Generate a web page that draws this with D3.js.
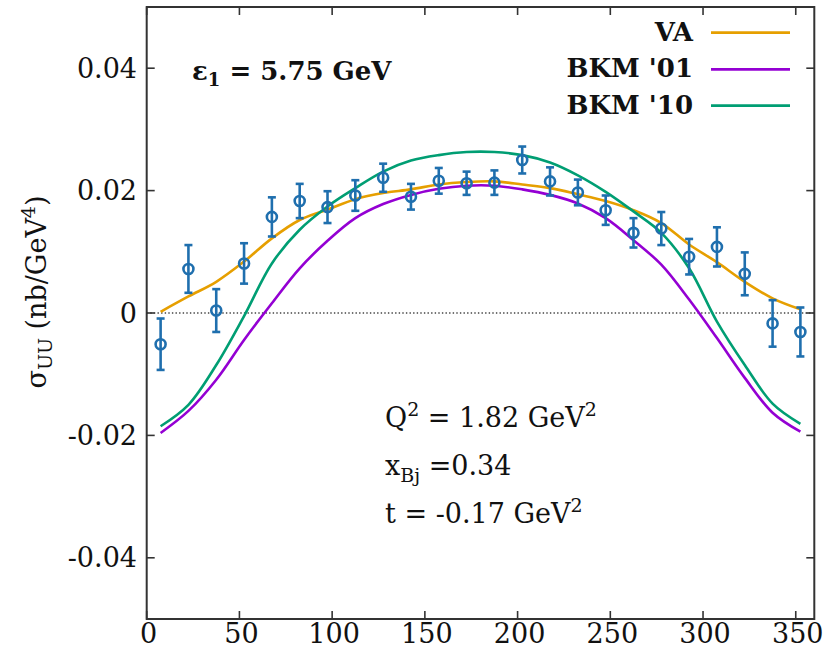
<!DOCTYPE html>
<html>
<head>
<meta charset="utf-8">
<script src="https://cdn.jsdelivr.net/npm/d3@7"></script>
<style>
  html, body { margin: 0; padding: 0; background: #fff; }
  svg { display: block; }
  text { font-family: "DejaVu Serif", "Liberation Serif", serif; fill: #111; }
</style>
</head>
<body>
<svg id="chart" width="827" height="650"></svg>
<script>
// Azimuthal angle bins (deg)
const phi = [7.5, 22.5, 37.5, 52.5, 67.5, 82.5, 97.5, 112.5, 127.5, 142.5, 157.5, 172.5,
             187.5, 202.5, 217.5, 232.5, 247.5, 262.5, 277.5, 292.5, 307.5, 322.5, 337.5, 352.5];

// Measured unpolarized cross section and its uncertainty (nb/GeV^4)
const sigma = [-0.0051, 0.0072, 0.0004, 0.0081, 0.0157, 0.0183, 0.0173, 0.0192, 0.0221, 0.0190, 0.0216, 0.0212,
               0.0213, 0.0250, 0.0215, 0.0197, 0.0168, 0.0131, 0.0138, 0.0092, 0.0108, 0.0064, -0.0017, -0.0031];
const sigmaErr = [0.0042, 0.0039, 0.0035, 0.0033, 0.0032, 0.0028, 0.0026, 0.0025, 0.0023, 0.0021, 0.0021, 0.0019,
                  0.0020, 0.0022, 0.0023, 0.0021, 0.0024, 0.0024, 0.0027, 0.0029, 0.0032, 0.0035, 0.0038, 0.0040];

// Model predictions at the same angles
const curveVA = [0.0002, 0.0027, 0.0051, 0.0084, 0.0122, 0.0152, 0.0169, 0.0186, 0.0196, 0.0202, 0.0210, 0.0214,
                 0.0215, 0.0210, 0.0204, 0.0194, 0.0183, 0.0168, 0.0147, 0.0112, 0.0083, 0.0051, 0.0024, 0.0006];
const curveBKM01 = [-0.0196, -0.0160, -0.0109, -0.0044, 0.0016, 0.0073, 0.0118, 0.0155, 0.0178, 0.0193, 0.0203, 0.0208,
                    0.0208, 0.0202, 0.0193, 0.0179, 0.0155, 0.0119, 0.0079, 0.0022, -0.0041, -0.0106, -0.0163, -0.0194];
const curveBKM10 = [-0.0185, -0.0150, -0.0085, -0.0005, 0.0081, 0.0136, 0.0174, 0.0204, 0.0231, 0.0249, 0.0258, 0.0263,
                    0.0263, 0.0258, 0.0246, 0.0225, 0.0198, 0.0166, 0.0131, 0.0073, -0.0014, -0.0085, -0.0148, -0.0181];

const seriesNames = ["VA", "BKM '01", "BKM '10"];
const seriesColors = ["#e69f00", "#9400d3", "#009e73"];
const pointColor = "#1f6fae";

const xTicks = [0, 50, 100, 150, 200, 250, 300, 350];
const xTickLabels = ["0", "50", "100", "150", "200", "250", "300", "350"];
const yTicks = [-0.04, -0.02, 0, 0.02, 0.04];
const yTickLabels = ["-0.04", "-0.02", "0", "0.02", "0.04"];

// ---- layout ----
const plot = { left: 146.7, right: 814.3, top: 7, bottom: 619 };
const svg = d3.select("#chart");

const x = d3.scaleLinear().domain([0, 360]).range([plot.left, plot.right]);
const y = d3.scaleLinear().domain([-0.05, 0.05]).range([plot.bottom, plot.top]);

const frameColor = "#333";
const tickLen = 8;
const tickFont = 27;

// zero reference line
svg.append("line")
  .attr("x1", x(0)).attr("x2", x(360))
  .attr("y1", y(0)).attr("y2", y(0))
  .attr("stroke", "#444").attr("stroke-width", 1.4)
  .attr("stroke-dasharray", "1.4,2.2");

// model curves
const models = [curveVA, curveBKM01, curveBKM10];
const line = d3.line()
  .x((d, i) => x(phi[i]))
  .y(d => y(d))
  .curve(d3.curveCatmullRom.alpha(0.5));

models.forEach((vals, k) => {
  svg.append("path")
    .datum(vals)
    .attr("d", line)
    .attr("fill", "none")
    .attr("stroke", seriesColors[k])
    .attr("stroke-width", 2.6)
    .attr("stroke-linejoin", "round");
});

// data points with error bars
const pts = svg.append("g")
  .attr("stroke", pointColor)
  .attr("stroke-width", 2.6)
  .attr("fill", "none");

phi.forEach((p, i) => {
  const cx = x(p);
  const lo = y(sigma[i] - sigmaErr[i]);
  const hi = y(sigma[i] + sigmaErr[i]);
  const cap = 4;
  pts.append("line").attr("x1", cx).attr("x2", cx).attr("y1", lo).attr("y2", hi);
  pts.append("line").attr("x1", cx - cap).attr("x2", cx + cap).attr("y1", lo).attr("y2", lo);
  pts.append("line").attr("x1", cx - cap).attr("x2", cx + cap).attr("y1", hi).attr("y2", hi);
  pts.append("circle").attr("cx", cx).attr("cy", y(sigma[i])).attr("r", 5);
});

// frame
svg.append("rect")
  .attr("x", plot.left).attr("y", plot.top)
  .attr("width", plot.right - plot.left).attr("height", plot.bottom - plot.top)
  .attr("fill", "none").attr("stroke", frameColor).attr("stroke-width", 2);

// ticks (inward, mirrored on all four sides)
const ticks = svg.append("g").attr("stroke", frameColor).attr("stroke-width", 1.6);
xTicks.forEach(t => {
  ticks.append("line").attr("x1", x(t)).attr("x2", x(t)).attr("y1", plot.bottom).attr("y2", plot.bottom - tickLen);
  ticks.append("line").attr("x1", x(t)).attr("x2", x(t)).attr("y1", plot.top).attr("y2", plot.top + tickLen);
});
yTicks.forEach(t => {
  ticks.append("line").attr("x1", plot.left).attr("x2", plot.left + tickLen).attr("y1", y(t)).attr("y2", y(t));
  ticks.append("line").attr("x1", plot.right).attr("x2", plot.right - tickLen).attr("y1", y(t)).attr("y2", y(t));
});

// tick labels
svg.append("g").selectAll("text")
  .data(xTicks)
  .join("text")
  .attr("x", d => x(d) + 2)
  .attr("y", 643)
  .attr("text-anchor", "middle")
  .attr("font-size", tickFont)
  .text((d, i) => xTickLabels[i]);

svg.append("g").selectAll("text")
  .data(yTicks)
  .join("text")
  .attr("x", 137)
  .attr("y", d => y(d) + 9.5)
  .attr("text-anchor", "end")
  .attr("font-size", tickFont)
  .text((d, i) => yTickLabels[i]);

// y-axis title
const yTitle = svg.append("text")
  .attr("transform", "translate(46,292) rotate(-90)")
  .attr("text-anchor", "middle")
  .attr("font-size", 27);
yTitle.append("tspan").text("σ");
yTitle.append("tspan").attr("font-size", 19).attr("dy", 6).text("UU");
yTitle.append("tspan").attr("dy", -6).text(" (nb/GeV");
yTitle.append("tspan").attr("font-size", 19).attr("dy", -11).text("4");
yTitle.append("tspan").attr("dy", 11).text(")");

// beam energy annotation
const eps = svg.append("text")
  .attr("x", 192).attr("y", 80)
  .attr("font-size", 26).attr("font-weight", "bold");
eps.append("tspan").text("ε");
eps.append("tspan").attr("font-size", 18).attr("dy", 6).text("1");
eps.append("tspan").attr("dy", -6).text(" = 5.75 GeV");

// kinematics annotation
const kin1 = svg.append("text").attr("x", 385).attr("y", 427).attr("font-size", 27);
kin1.append("tspan").text("Q");
kin1.append("tspan").attr("font-size", 19).attr("dy", -11).text("2");
kin1.append("tspan").attr("dy", 11).text(" = 1.82 GeV");
kin1.append("tspan").attr("font-size", 19).attr("dy", -11).text("2");

const kin2 = svg.append("text").attr("x", 385).attr("y", 475).attr("font-size", 27);
kin2.append("tspan").text("x");
kin2.append("tspan").attr("font-size", 19).attr("dy", 7).text("Bj");
kin2.append("tspan").attr("dy", -7).text(" =0.34");

const kin3 = svg.append("text").attr("x", 385).attr("y", 523).attr("font-size", 27);
kin3.append("tspan").text("t = -0.17 GeV");
kin3.append("tspan").attr("font-size", 19).attr("dy", -11).text("2");

// legend
const legY = [32.7, 69.3, 105.7];
const legend = svg.append("g");
seriesNames.forEach((name, k) => {
  legend.append("text")
    .attr("x", 693).attr("y", legY[k] + 8)
    .attr("text-anchor", "end")
    .attr("font-size", 26).attr("font-weight", "bold")
    .text(name);
  legend.append("line")
    .attr("x1", 711).attr("x2", 790)
    .attr("y1", legY[k]).attr("y2", legY[k])
    .attr("stroke", seriesColors[k]).attr("stroke-width", 2.8);
});
</script>
</body>
</html>
